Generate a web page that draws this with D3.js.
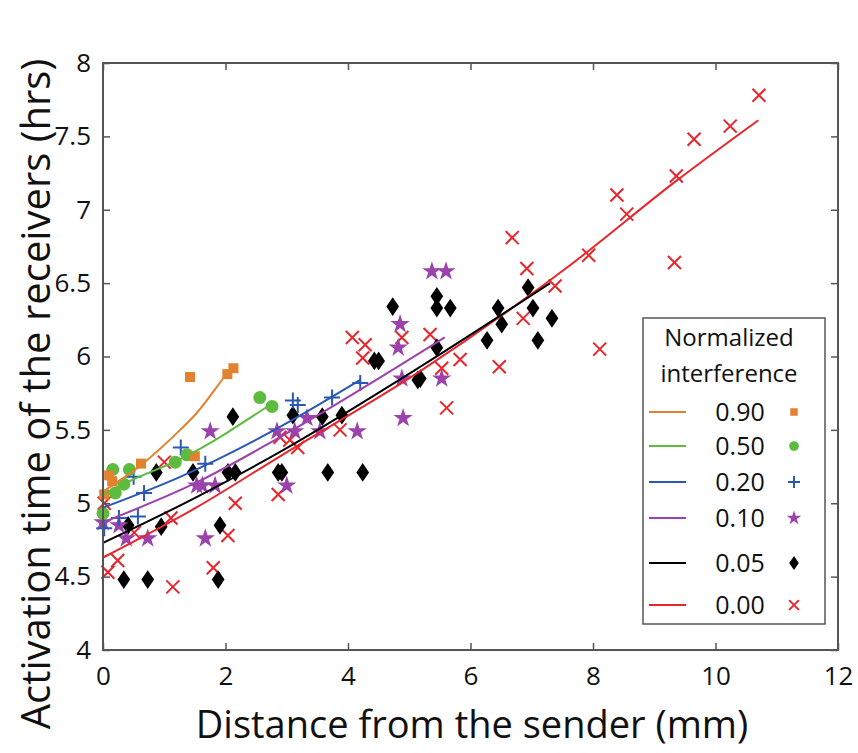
<!DOCTYPE html>
<html>
<head>
<meta charset="utf-8">
<script src="https://cdn.jsdelivr.net/npm/d3@7"></script>
<style>
  body { margin: 0; background: #fff; }
  text { font-family: "Open Sans", sans-serif; fill: #111; }
</style>
</head>
<body>
<div id="chart"></div>
<script>
// measured points, [distance mm, activation hrs]
let pts90 = [[0.02,5.06],[0.10,5.19],[0.15,5.15],[0.62,5.27],[1.42,5.86],[1.50,5.32],[2.03,5.88],[2.13,5.92]];
let pts50 = [[0.0,4.93],[0.16,5.23],[0.20,5.07],[0.34,5.13],[0.43,5.23],[1.18,5.28],[1.37,5.33],[2.56,5.72],[2.76,5.66]];
let pts20 = [[0.02,4.83],[0.26,4.90],[0.5,5.18],[0.57,4.91],[0.67,5.07],[1.27,5.38],[1.67,5.27],[3.10,5.70],[3.18,5.67],[3.74,5.72],[4.2,5.82]];
let pts10 = [[0.0,4.87],[0.26,4.85],[0.38,4.76],[0.73,4.76],[1.53,5.12],[1.62,5.12],[1.67,4.76],[1.75,5.49],[1.83,5.12],
  [2.84,5.49],[3.0,5.12],[3.13,5.49],[3.33,5.58],[3.54,5.49],[4.15,5.49],[4.82,6.06],[4.85,6.22],[4.88,5.85],[4.90,5.58],
  [5.37,6.58],[5.53,5.85],[5.60,6.58]];
let pts05 = [[0.34,4.48],[0.41,4.85],[0.73,4.48],[0.87,5.21],[0.95,4.84],[1.47,5.21],[1.88,4.48],[1.91,4.85],[2.04,5.21],
  [2.12,5.59],[2.16,5.21],[2.86,5.21],[2.92,5.21],[3.1,5.60],[3.58,5.59],[3.67,5.21],[3.9,5.60],[4.24,5.21],[4.43,5.97],
  [4.50,5.97],[4.73,6.34],[5.14,5.84],[5.18,5.85],[5.45,6.41],[5.45,6.33],[5.45,6.06],[5.67,6.33],[6.27,6.11],[6.45,6.33],
  [6.51,6.22],[6.94,6.47],[7.02,6.33],[7.10,6.11],[7.33,6.26]];
let pts00 = [[0.02,5.0],[0.08,4.53],[0.24,4.61],[0.51,4.80],[1.0,5.28],[1.11,4.90],[1.14,4.43],[1.80,4.56],[2.04,4.78],
  [2.16,5.0],[2.86,5.06],[2.89,5.45],[3.05,5.43],[3.18,5.38],[3.87,5.50],[4.07,6.13],[4.24,5.99],[4.28,6.08],[4.88,6.13],
  [5.34,6.15],[5.53,5.92],[5.61,5.65],[5.83,5.98],[6.47,5.93],[6.68,6.81],[6.86,6.26],[6.92,6.60],[7.38,6.48],[7.93,6.69],
  [8.11,6.05],[8.39,7.10],[8.55,6.97],[9.33,6.64],[9.36,7.23],[9.65,7.48],[10.24,7.57],[10.71,7.78]];

// fitted curves
let fit90 = [[0,5.08],[0.62,5.26],[1.26,5.50],[1.52,5.61],[1.96,5.85],[2.05,5.90]];
let fit50 = [[0,5.06],[0.43,5.15],[1.26,5.30],[2.76,5.68]];
let fit20 = [[0,4.97],[1.26,5.18],[2.89,5.52],[4.2,5.84]];
let fit10 = [[0,4.87],[1.52,5.14],[2.89,5.45],[5.58,6.13]];
let fit05 = [[0,4.73],[1.52,5.04],[2.89,5.35],[5.18,5.93],[7.3,6.50]];
let fit00 = [[0,4.63],[1.52,4.97],[2.89,5.32],[5.18,5.90],[7.62,6.62],[9.37,7.20],[10.7,7.61]];

let labels = ["0.90","0.50","0.20","0.10","0.05","0.00"];
let xTicks = [0,2,4,6,8,10,12];
let yTicks = [4,4.5,5,5.5,6,6.5,7,7.5,8];

let w = 858;
let h = 753;
let padLeft = 103, padRight = 838, padTop = 63, padBottom = 650;

let viz = d3.select("#chart")
  .append("svg")
  .attr("width", w)
  .attr("height", h)
;

let xScale = d3.scaleLinear().domain([0,12]).range([padLeft, padRight]);
let yScale = d3.scaleLinear().domain([4,8]).range([padBottom, padTop]);

// marker shapes
function square(s){ return "M"+(-s)+","+(-s)+"h"+(2*s)+"v"+(2*s)+"h"+(-2*s)+"Z"; }
function circle(s){ return "M"+(-s)+",0a"+s+","+s+" 0 1,0 "+(2*s)+",0a"+s+","+s+" 0 1,0 "+(-2*s)+",0"; }
function plus(s){ return "M"+(-s)+",0h"+(2*s)+"M0,"+(-s)+"v"+(2*s); }
function cross(s){ return "M"+(-s)+","+(-s)+"L"+s+","+s+"M"+(-s)+","+s+"L"+s+","+(-s); }
function diamond(s){ return "M0,"+(-s*1.25)+"L"+(s*0.85)+",0L0,"+(s*1.25)+"L"+(-s*0.85)+",0Z"; }
function star(s){ return d3.symbol(d3.symbolStar, s*s*1.8)(); }

let series = [
  {pts: pts00, fit: fit00, color: "#e8252b", shape: cross, size: 6.5, filled: false},
  {pts: pts05, fit: fit05, color: "#000000", shape: diamond, size: 7.5, filled: true},
  {pts: pts10, fit: fit10, color: "#9b42ad", shape: star, size: 8, filled: true},
  {pts: pts20, fit: fit20, color: "#2b57b5", shape: plus, size: 8, filled: false},
  {pts: pts50, fit: fit50, color: "#5dbb3f", shape: circle, size: 6.5, filled: true},
  {pts: pts90, fit: fit90, color: "#e2812e", shape: square, size: 5, filled: true}
];

let line = d3.line()
  .x(d => xScale(d[0]))
  .y(d => yScale(d[1]))
  .curve(d3.curveMonotoneX);

series.forEach(s => {
  viz.append("g").selectAll("path").data(s.pts).enter()
    .append("path")
    .attr("d", s.shape(s.size))
    .attr("transform", d => "translate(" + xScale(d[0]) + "," + yScale(d[1]) + ")")
    .attr("fill", s.filled ? s.color : "none")
    .attr("stroke", s.color)
    .attr("stroke-width", s.filled ? 0 : 2)
  ;
});

series.forEach(s => {
  viz.append("path")
    .datum(s.fit)
    .attr("d", line)
    .attr("fill", "none")
    .attr("stroke", s.color)
    .attr("stroke-width", 2)
  ;
});

// frame with inward ticks on all four sides
let frameColor = "#555";
viz.append("rect")
  .attr("x", padLeft).attr("y", padTop)
  .attr("width", padRight-padLeft).attr("height", padBottom-padTop)
  .attr("fill", "none").attr("stroke", frameColor).attr("stroke-width", 2);

let xAxis = d3.axisBottom(xScale).tickValues(xTicks).tickSizeInner(-7).tickSizeOuter(0).tickPadding(13).tickFormat(d3.format("d"));
let xAxisGroup = viz.append("g").attr("transform", "translate(0," + padBottom + ")").call(xAxis);
let xTop = viz.append("g").attr("transform", "translate(0," + padTop + ")")
  .call(d3.axisTop(xScale).tickValues(xTicks).tickSizeInner(-7).tickSizeOuter(0).tickFormat(""));
let yAxis = d3.axisLeft(yScale).tickValues(yTicks).tickSizeInner(-7).tickSizeOuter(0).tickPadding(12).tickFormat(d => d3.format("")(d));
let yAxisGroup = viz.append("g").attr("transform", "translate(" + padLeft + ",0)").call(yAxis);
let yRight = viz.append("g").attr("transform", "translate(" + padRight + ",0)")
  .call(d3.axisRight(yScale).tickValues(yTicks).tickSizeInner(-7).tickSizeOuter(0).tickFormat(""));

[xAxisGroup, xTop, yAxisGroup, yRight].forEach(g => {
  g.select(".domain").remove();
  g.selectAll(".tick line").attr("stroke", frameColor).attr("stroke-width", 1.5);
  g.selectAll("text").attr("font-size", 26).attr("font-family", "'Open Sans', sans-serif").attr("fill", "#111");
});
xAxisGroup.selectAll("text").attr("dy", "0.85em");

viz.append("text")
  .attr("x", 472).attr("y", 738)
  .attr("text-anchor", "middle")
  .attr("font-size", 38)
  .text("Distance from the sender (mm)");

viz.append("text")
  .attr("transform", "translate(50,394) rotate(-90)")
  .attr("text-anchor", "middle")
  .attr("font-size", 40)
  .text("Activation time of the receivers (hrs)");

// legend
let lg = viz.append("g");
lg.append("rect")
  .attr("x", 643).attr("y", 318)
  .attr("width", 182).attr("height", 306)
  .attr("fill", "#fff").attr("stroke", frameColor).attr("stroke-width", 1.5);
lg.append("text").attr("x", 729).attr("y", 346).attr("text-anchor", "middle").attr("font-size", 24).text("Normalized");
lg.append("text").attr("x", 729).attr("y", 382).attr("text-anchor", "middle").attr("font-size", 24).text("interference");

let legendY = [412, 446, 482, 518, 563, 605];
let legendSeries = series.slice().reverse();
legendSeries.forEach((s, i) => {
  let y = legendY[i];
  lg.append("line").attr("x1", 649).attr("x2", 686).attr("y1", y).attr("y2", y)
    .attr("stroke", s.color).attr("stroke-width", 2);
  lg.append("text").attr("x", 740).attr("y", y).attr("dy", "0.35em")
    .attr("text-anchor", "middle").attr("font-size", 25).text(labels[i]);
  lg.append("path")
    .attr("d", s.shape(s.size * 0.75))
    .attr("transform", "translate(794," + y + ")")
    .attr("fill", s.filled ? s.color : "none")
    .attr("stroke", s.color)
    .attr("stroke-width", s.filled ? 0 : 2);
});
</script>
</body>
</html>
